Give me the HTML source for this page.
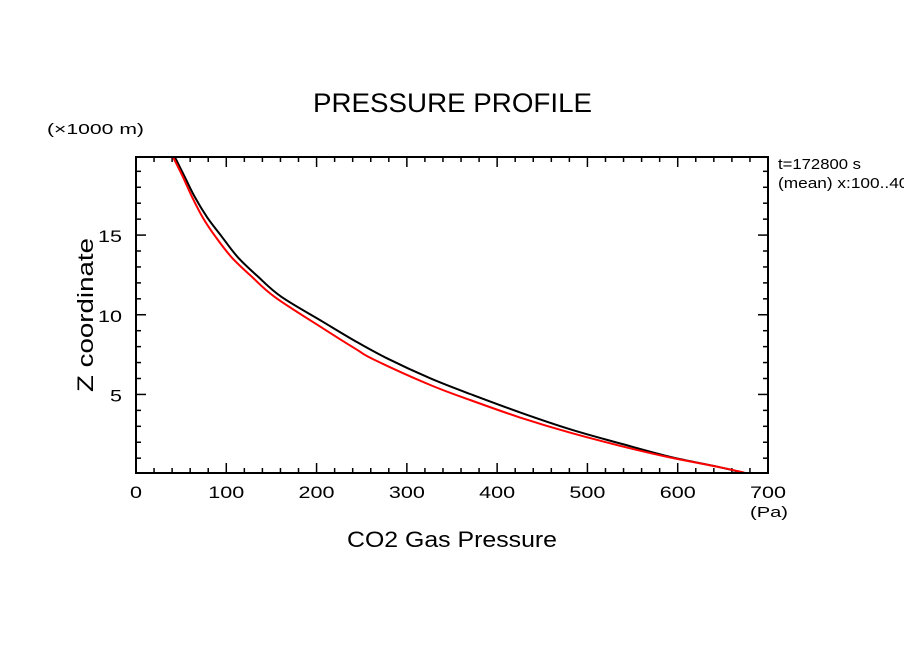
<!DOCTYPE html>
<html><head><meta charset="utf-8"><style>
body{margin:0;background:#fff;}
svg{display:block;font-family:"Liberation Sans",sans-serif;}
</style></head><body>
<svg id="chart" width="904" height="654" viewBox="0 0 904 654" xmlns="http://www.w3.org/2000/svg">
<rect width="904" height="654" fill="#fff"/>
<text x="313" y="112" font-size="27" textLength="279" lengthAdjust="spacingAndGlyphs">PRESSURE PROFILE</text>
<text x="47" y="134" font-size="15" textLength="97" lengthAdjust="spacingAndGlyphs">(×1000 m)</text>
<text x="778" y="169" font-size="15" textLength="83" lengthAdjust="spacingAndGlyphs">t=172800 s</text>
<text x="778" y="188" font-size="15" textLength="140" lengthAdjust="spacingAndGlyphs">(mean) x:100..400</text>
<text transform="translate(93,392) rotate(-90)" font-size="22" textLength="154" lengthAdjust="spacingAndGlyphs">Z coordinate</text>
<text x="347" y="547" font-size="22" textLength="210" lengthAdjust="spacingAndGlyphs">CO2 Gas Pressure</text>
<text x="750" y="517" font-size="15" textLength="38" lengthAdjust="spacingAndGlyphs">(Pa)</text>
<g id="ticks"></g>
<g id="series"></g>
<rect x="136" y="157" width="632" height="316" fill="none" stroke="#000" stroke-width="2"/>
</svg>
<script>
const xTicks=[0,100,200,300,400,500,600,700];
const yTicks=[5,10,15];
const blackZ=[19.9,18.65,17.4,16.1,14.9,13.6,12.4,11.13,9.56,8.31,7.27,6.01,5.03,3.88,2.81,1.93,1.09,0.43,0.09];
const blackP=[43,54,65,79,95,113,135,161,207,244,278,326,370,425,481,536,591,647,672];
const redZ=[19.9,18.65,17.4,16.1,14.9,13.6,12.4,11.1,9.15,7.83,7.2,5.59,4.65,3.56,2.6,1.78,1.05,0.43,0.09];
const redP=[41,52,62,74,88,106,128,154,207,244,263,326,370,425,481,536,591,647,674];
const X0=136,X1=768,Y0=473,Y1=157,XMAX=700,YMIN=0.07,YMAX=19.9;
const sx=v=>X0+(v/XMAX)*(X1-X0);
const sy=v=>Y0-(v-YMIN)/(YMAX-YMIN)*(Y0-Y1);
const NS="http://www.w3.org/2000/svg";
const tg=document.getElementById('ticks');
function ln(x1,y1,x2,y2,name){const l=document.createElementNS(NS,'line');
l.setAttribute('x1',x1);l.setAttribute('y1',y1);l.setAttribute('x2',x2);l.setAttribute('y2',y2);
l.setAttribute('stroke','#000');l.setAttribute('stroke-width','1.5');


tg.appendChild(l);}
function tx(x,y,s,anchor,name,w){const t=document.createElementNS(NS,'text');
t.setAttribute('x',x);t.setAttribute('y',y);t.setAttribute('text-anchor',anchor);t.setAttribute('font-size','17');
t.setAttribute('textLength',w);t.setAttribute('lengthAdjust','spacingAndGlyphs');t.textContent=s;


tg.appendChild(t);}
for(let v=0;v<=XMAX;v+=20){const x=sx(v);const L=(v%100===0)?10:5;
ln(x,Y0,x,Y0-L,'x-tick');ln(x,Y1,x,Y1+L,'x-tick-top');}
for(let v=1;v<YMAX;v+=1){const y=sy(v);const L=(v%5===0)?10:5;
ln(X0,y,X0+L,y,'y-tick');ln(X1,y,X1-L,y,'y-tick-right');}
xTicks.forEach(v=>{const s=String(v);tx(sx(v),498,s,'middle','x-tick-label',s.length*12);});
yTicks.forEach(v=>{const s=String(v);tx(X0-14,sy(v)+7,s,'end','y-tick-label',s.length*12);});
const sg=document.getElementById('series');
function path(zs,vals,color,name){const pts=vals.map((v,i)=>[sx(v),sy(zs[i])]);
let d='M'+pts[0][0].toFixed(1)+','+pts[0][1].toFixed(1);
for(let i=0;i<pts.length-1;i++){const p0=pts[Math.max(0,i-1)],p1=pts[i],p2=pts[i+1],p3=pts[Math.min(pts.length-1,i+2)];
const c1=[p1[0]+(p2[0]-p0[0])/6,p1[1]+(p2[1]-p0[1])/6],c2=[p2[0]-(p3[0]-p1[0])/6,p2[1]-(p3[1]-p1[1])/6];
d+='C'+c1[0].toFixed(1)+','+c1[1].toFixed(1)+' '+c2[0].toFixed(1)+','+c2[1].toFixed(1)+' '+p2[0].toFixed(1)+','+p2[1].toFixed(1);}
const p=document.createElementNS(NS,'path');
p.setAttribute('d',d);p.setAttribute('fill','none');p.setAttribute('stroke',color);p.setAttribute('stroke-width','2');


sg.appendChild(p);}
path(blackZ,blackP,'#000','black-profile-line');
path(redZ,redP,'#f00','red-profile-line');
</script>
</body></html>
